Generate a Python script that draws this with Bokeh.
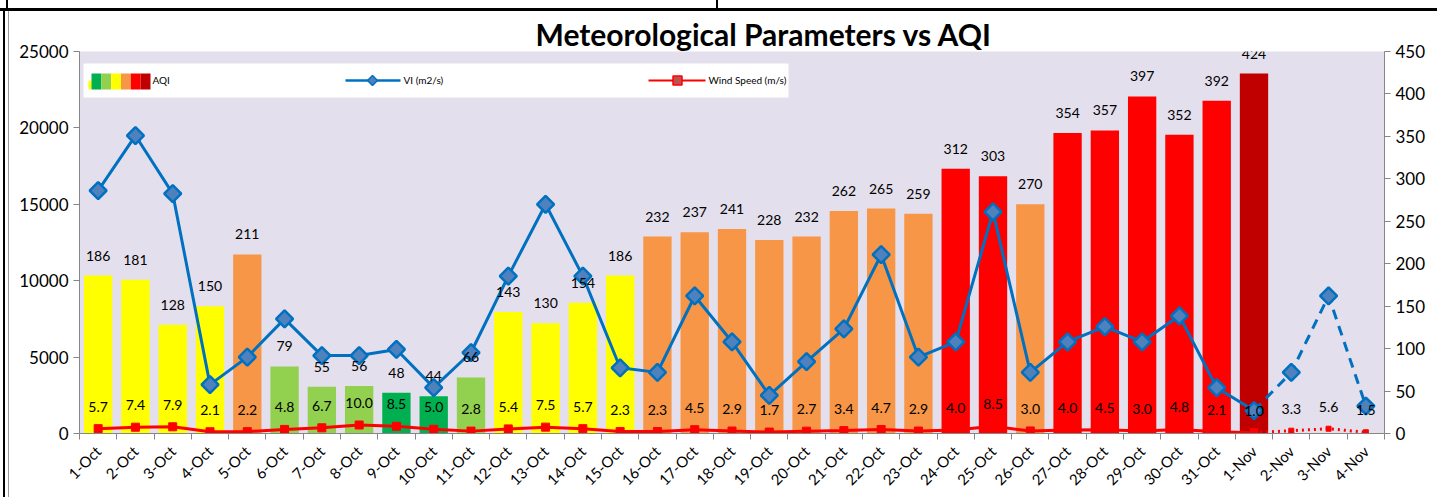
import math
from bokeh.plotting import figure
from bokeh.models import (Range1d, LinearAxis, FixedTicker, ColumnDataSource, LinearScale, LabelSet,
                          InlineStyleSheet)
from bokeh.core.properties import value
from bokeh.embed import file_html
from bokeh.resources import INLINE

# ---------------- data ----------------
dates = ["1-Oct", "2-Oct", "3-Oct", "4-Oct", "5-Oct", "6-Oct", "7-Oct", "8-Oct", "9-Oct", "10-Oct",
         "11-Oct", "12-Oct", "13-Oct", "14-Oct", "15-Oct", "16-Oct", "17-Oct", "18-Oct", "19-Oct", "20-Oct",
         "21-Oct", "22-Oct", "23-Oct", "24-Oct", "25-Oct", "26-Oct", "27-Oct", "28-Oct", "29-Oct", "30-Oct",
         "31-Oct", "1-Nov", "2-Nov", "3-Nov", "4-Nov"]

aqi = [186, 181, 128, 150, 211, 79, 55, 56, 48, 44,
       66, 143, 130, 154, 186, 232, 237, 241, 228, 232,
       262, 265, 259, 312, 303, 270, 354, 357, 397, 352,
       392, 424]

vi = [15900, 19500, 15700, 3200, 5000, 7500, 5100, 5100, 5500, 3000,
      5300, 10300, 15000, 10300, 4300, 4000, 9000, 6000, 2500, 4700,
      6850, 11700, 5000, 6000, 14500, 4000, 6000, 7000, 6000, 7700,
      3000, 1500, 4000, 9000, 1800]

wind = [5.7, 7.4, 7.9, 2.1, 2.2, 4.8, 6.7, 10.0, 8.5, 5.0,
        2.8, 5.4, 7.5, 5.7, 2.3, 2.3, 4.5, 2.9, 1.7, 2.7,
        3.4, 4.7, 2.9, 4.0, 8.5, 3.0, 4.0, 4.5, 3.0, 4.8,
        2.1, 1.0, 3.3, 5.6, 1.5]

n_observed = 32          # 1-Oct .. 1-Nov observed, 2-Nov .. 4-Nov forecast
left_ticks = [0, 5000, 10000, 15000, 20000, 25000]
right_ticks = [0, 50, 100, 150, 200, 250, 300, 350, 400, 450]

aqi_colors = ["#00B050", "#92D050", "#FFFF00", "#F79646", "#FF0000", "#C00000"]
aqi_limits = [50, 100, 200, 300, 400, 500]


def aqi_color(v):
    for lim, c in zip(aqi_limits, aqi_colors):
        if v <= lim:
            return c
    return aqi_colors[-1]


# category slots: category i occupies [i, i+1] on the x scale
xc_pos = [i + 0.5 for i in range(len(dates))]
x_bounds = list(range(len(dates) + 1))

# ---------------- figure ----------------
W, H = 1437, 497
BL, BR, BT, BB = 79, W - 1384, 51, H - 434
FONT = "Lato"
GRAY = "#868686"
BLUE = "#0070C0"
RED = "#FF0000"

p = figure(width=W, height=H,
           x_range=Range1d(0, len(dates)),
           y_range=Range1d(0, 25000),
           x_axis_location=None, y_axis_location=None,
           output_backend="svg", toolbar_location=None,
           min_border_left=BL, min_border_right=BR, min_border_top=BT, min_border_bottom=BB,
           background_fill_color="#E4DFEC", border_fill_color="white", outline_line_color=None)
p.grid.visible = False
p.extra_y_ranges = {"aqi": Range1d(0, 450)}
p.extra_y_scales = {"aqi": LinearScale()}

# document frame lines around the chart (page decoration)
p.stylesheets = [InlineStyleSheet(css="""
:host { position: relative; }
:host::before {
  content: ""; position: absolute; left: 0; top: 0; width: 100%; height: 100%;
  pointer-events: none; z-index: 10;
  background:
    linear-gradient(#000, #000) 0 8px / 100% 3px no-repeat,
    linear-gradient(#000, #000) 3px 8px / 2px 100% no-repeat,
    linear-gradient(#000, #000) 716px 0 / 2px 9px no-repeat,
    linear-gradient(#000, #000) 6px 0 / 2px 9px no-repeat,
    linear-gradient(#999, #999) 8px 11px / 1px 100% no-repeat;
}
""")]

p.title.text = "Meteorological Parameters vs AQI"
p.title.text_font = FONT
p.title.text_font_size = "30px"
p.title.text_font_style = "bold"
p.title.text_color = "black"
p.title.align = "left"
p.title.offset = 456
p.title.standoff = 0


def style_axis(ax, size="17px"):
    ax.axis_line_color = GRAY
    ax.major_tick_line_color = GRAY
    ax.minor_tick_line_color = None
    ax.major_tick_in = 0
    ax.major_tick_out = 6
    ax.major_label_text_font = FONT
    ax.major_label_text_font_size = size
    ax.major_label_text_color = "black"


yl = LinearAxis(ticker=FixedTicker(ticks=left_ticks))
style_axis(yl)
p.add_layout(yl, "left")

yr = LinearAxis(y_range_name="aqi", ticker=FixedTicker(ticks=right_ticks))
style_axis(yr)
p.add_layout(yr, "right")

# category axis: labels at category centres, tick marks (minor) at category boundaries
xc = LinearAxis(ticker=FixedTicker(ticks=xc_pos, minor_ticks=x_bounds),
                major_label_overrides={x: d for x, d in zip(xc_pos, dates)})
xc.axis_line_color = GRAY
xc.major_tick_line_color = None
xc.major_tick_out = 0
xc.major_tick_in = 0
xc.minor_tick_line_color = GRAY
xc.minor_tick_out = 6
xc.minor_tick_in = 0
xc.major_label_standoff = 9
xc.major_label_orientation = math.pi / 4
xc.major_label_text_font = FONT
xc.major_label_text_font_size = "15px"
xc.major_label_text_color = "black"
p.add_layout(xc, "below")

# ---------------- bars (AQI) ----------------
bar_src = ColumnDataSource(dict(x=xc_pos[:len(aqi)], top=aqi,
                                color=[aqi_color(v) for v in aqi],
                                lbl=[str(v) for v in aqi]))
p.vbar(x="x", top="top", width=0.76, fill_color="color", line_color=None,
       y_range_name="aqi", source=bar_src)

# ---------------- wind speed line ----------------
p.line(xc_pos[:n_observed], wind[:n_observed], line_color=RED, line_width=3, y_range_name="aqi")
p.line(xc_pos[n_observed - 1:], wind[n_observed - 1:], line_color=RED, line_width=3,
       line_dash="2 4", y_range_name="aqi")
p.scatter(xc_pos[:n_observed], wind[:n_observed], marker="square", size=8,
          fill_color=RED, line_color=RED, y_range_name="aqi")
p.scatter(xc_pos[n_observed:], wind[n_observed:], marker="square", size=5,
          fill_color=RED, line_color=RED, y_range_name="aqi")

# ---------------- VI line ----------------
p.line(xc_pos[:n_observed], vi[:n_observed], line_color=BLUE, line_width=3)
p.line(xc_pos[n_observed - 1:], vi[n_observed - 1:], line_color=BLUE, line_width=3, line_dash="10 7")
p.scatter(xc_pos, vi, marker="square", angle=math.pi / 4, size=12,
          fill_color="#4F81BD", line_color=BLUE, line_width=2.5)

# ---------------- data labels ----------------
p.add_layout(LabelSet(x="x", y="top", text="lbl", source=bar_src, y_range_name="aqi",
                      text_font=value(FONT), text_font_size="14px", text_align="center",
                      text_baseline="middle", y_offset=20, text_color="black"))
wind_src = ColumnDataSource(dict(x=xc_pos, y=wind, lbl=["%.1f" % w for w in wind]))
p.text(x="x", y="y", text="lbl", source=wind_src, y_range_name="aqi",
       text_font=value(FONT), text_font_size="14px", text_align="center",
       text_baseline="middle", y_offset=-22, text_color="black")

# ---------------- legend (drawn inside the frame) ----------------
FL, FR, FT, FB = 79, 1384, 51, 434   # frame edges in page pixels


def dx(px):
    return (px - FL) / (FR - FL) * len(dates)


def dy(py):
    return (FB - py) / (FB - FT) * 25000


p.quad(left=[dx(83)], right=[dx(788)], top=[dy(63)], bottom=[dy(97)],
       fill_color="white", line_color=None)
p.quad(left=[dx(88)], right=[dx(91)], top=[dy(80)], bottom=[dy(89)],
       fill_color="#FFFF00", line_color=None)
sw = (150 - 91) / len(aqi_colors)
p.quad(left=[dx(91 + i * sw) for i in range(len(aqi_colors))],
       right=[dx(91 + (i + 1) * sw) for i in range(len(aqi_colors))],
       top=[dy(73)] * len(aqi_colors), bottom=[dy(89)] * len(aqi_colors),
       fill_color=aqi_colors, line_color=None)
p.line([dx(345), dx(400)], [dy(80), dy(80)], line_color=BLUE, line_width=2.5)
p.scatter([dx(372)], [dy(80)], marker="square", angle=math.pi / 4, size=7,
          fill_color="#4F81BD", line_color=BLUE, line_width=1.5)
p.line([dx(648), dx(705)], [dy(80), dy(80)], line_color=RED, line_width=2)
p.scatter([dx(677)], [dy(80)], marker="square", size=9,
          fill_color="#C0504D", line_color=RED, line_width=1.5)
p.text(x=[dx(152), dx(403), dx(708)], y=[dy(80)] * 3,
       text=["AQI", "VI (m2/s)", "Wind Speed (m/s)"],
       text_font=value(FONT), text_font_size="10px", text_align="left",
       text_baseline="middle", text_color="black")

open("out.html", "w").write(file_html(p, INLINE))
